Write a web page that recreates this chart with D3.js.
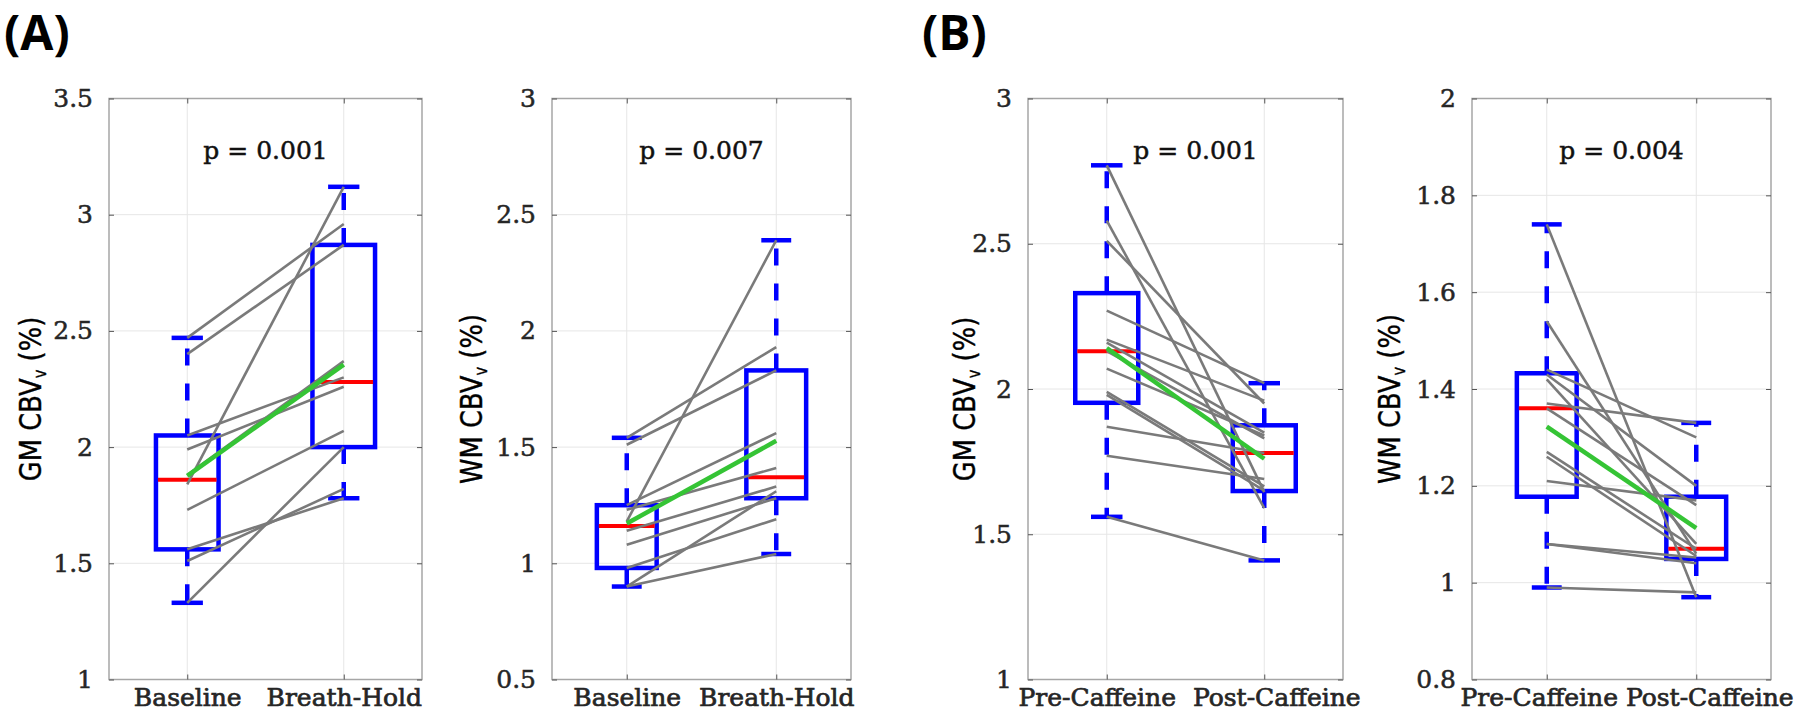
<!DOCTYPE html>
<html lang="en">
<head>
<meta charset="UTF-8">
<title>CBVv boxplots</title>
<script src="https://cdn.jsdelivr.net/npm/d3@7"></script>
<style>
    body { margin: 0; background: #fff; }
    .tick-label, .cat-label, .pval { font-family: "DejaVu Serif", serif; fill: #262626; stroke: #262626; stroke-width: 0.5px; }
    .tick-label { font-size: 25px; }
    .cat-label { font-size: 25px; stroke-width: 0.7px; }
    .pval { font-size: 25px; fill: #111; stroke: #111; }
    .ylab { font-family: "DejaVu Sans", sans-serif; font-size: 30px; fill: #000; stroke: #000; stroke-width: 0.4px; }
    .panel-tag { font-family: "Open Sans", "DejaVu Sans", sans-serif; font-weight: 700; font-size: 48px; fill: #000; }
</style>
</head>
<body>
<svg width="1800" height="718"></svg>
<script>
// per-subject values (same subject = same index)
var gmBaseline   = [2.47, 2.40, 1.84, 2.05, 1.99, 1.73, 1.56, 1.51, 1.33, 1.88];
var gmBreathHold = [2.96, 2.87, 3.12, 2.30, 2.26, 2.07, 1.78, 1.82, 2.00, 2.37];
var wmBaseline   = [1.54, 1.51, 1.18, 1.25, 1.23, 1.14, 1.08, 0.98, 0.90, 0.90];
var wmBreathHold = [1.93, 1.83, 2.39, 1.56, 1.41, 1.33, 1.28, 1.19, 1.31, 1.04];
var gmPreCaf  = [2.77, 2.58, 2.51, 2.27, 2.17, 2.16, 2.13, 2.07, 1.99, 1.98, 1.87, 1.77, 1.56];
var gmPostCaf = [1.645, 1.59, 1.95, 2.02, 1.96, 1.85, 1.83, 1.84, 1.665, 1.65, 1.78, 1.69, 1.41];
var wmPreCaf  = [1.74, 0.99, 1.54, 1.44, 1.43, 1.42, 1.37, 1.36, 1.27, 1.26, 1.21, 1.08, 1.08];
var wmPostCaf = [0.97, 0.98, 1.06, 1.30, 1.20, 1.08, 1.33, 1.16, 1.07, 1.055, 1.17, 1.052, 1.04];

var catsBreath = ["Baseline", "Breath-Hold"];
var catsCaf = ["Pre-Caffeine", "Post-Caffeine"];
var pValues = ["p = 0.001", "p = 0.007", "p = 0.001", "p = 0.004"];
var yLabels = ["GM", "WM", "GM", "WM"];
var yDomains = [[1, 3.5], [0.5, 3], [1, 3], [0.8, 2]];
var yTicks = [
    [1, 1.5, 2, 2.5, 3, 3.5],
    [0.5, 1, 1.5, 2, 2.5, 3],
    [1, 1.5, 2, 2.5, 3],
    [0.8, 1, 1.2, 1.4, 1.6, 1.8, 2]
];

var panels = [
    {a: gmBaseline, b: gmBreathHold, cats: catsBreath},
    {a: wmBaseline, b: wmBreathHold, cats: catsBreath},
    {a: gmPreCaf, b: gmPostCaf, cats: catsCaf},
    {a: wmPreCaf, b: wmPostCaf, cats: catsCaf}
];

// layout
var axLeft = [109, 552, 1028, 1472],
    axRight = [422, 851, 1343, 1771],
    axTop = 98.5, axBottom = 679.5;
var ylabX = [30, 471, 964, 1389], ylabY = 399;
var pShift = [0, 0, 10, 0];
var catShift = [[0, 0], [0, 0], [-10, 12], [-8, 13]];

var svg = d3.select("svg");

// MATLAB style percentile (used by boxplot)
function mq(vals, p) {
    var s = vals.slice().sort(d3.ascending), n = s.length;
    var pos = p * n + 0.5;
    if (pos <= 1) return s[0];
    if (pos >= n) return s[n - 1];
    var i = Math.floor(pos), f = pos - i;
    return s[i - 1] + f * (s[i] - s[i - 1]);
}

function boxStats(vals) {
    var q1 = mq(vals, 0.25), q3 = mq(vals, 0.75), iqr = q3 - q1;
    var inside = vals.filter(function (v) { return v >= q1 - 1.5 * iqr && v <= q3 + 1.5 * iqr; });
    return {q1: q1, med: mq(vals, 0.5), q3: q3, lo: d3.min(inside), hi: d3.max(inside)};
}

panels.forEach(function (p, k) {
    var x = d3.scaleLinear().domain([0.5, 2.5]).range([axLeft[k], axRight[k]]);
    var y = d3.scaleLinear().domain(yDomains[k]).range([axBottom, axTop]);
    var g = svg.append("g");

    // grid
    g.selectAll(".gy").data(yTicks[k]).enter().append("line")
        .attr("x1", axLeft[k]).attr("x2", axRight[k])
        .attr("y1", function (d) { return y(d); }).attr("y2", function (d) { return y(d); })
        .attr("stroke", "#e6e6e6").attr("stroke-width", 1);
    g.selectAll(".gx").data([1, 2]).enter().append("line")
        .attr("x1", function (d) { return x(d); }).attr("x2", function (d) { return x(d); })
        .attr("y1", axTop).attr("y2", axBottom)
        .attr("stroke", "#e6e6e6").attr("stroke-width", 1);

    // frame
    g.append("rect").attr("x", axLeft[k]).attr("y", axTop)
        .attr("width", axRight[k] - axLeft[k]).attr("height", axBottom - axTop)
        .attr("fill", "none").attr("stroke", "#a6a6a6").attr("stroke-width", 1.5);

    // axes (ticks inward, labels outside)
    var yAxis = d3.axisLeft(y).tickValues(yTicks[k]).tickFormat(d3.format("~g"))
        .tickSizeInner(-5).tickSizeOuter(0).tickPadding(16);
    var ya = g.append("g").attr("transform", "translate(" + axLeft[k] + ",0)").call(yAxis);
    ya.select(".domain").remove();
    ya.selectAll("line").attr("stroke", "#555");
    ya.selectAll("text").attr("class", "tick-label").attr("font-size", null).attr("font-family", null)
        .attr("fill", null);

    var yAxisR = d3.axisRight(y).tickValues(yTicks[k]).tickFormat("").tickSizeInner(-5).tickSizeOuter(0);
    var yr = g.append("g").attr("transform", "translate(" + axRight[k] + ",0)").call(yAxisR);
    yr.select(".domain").remove();
    yr.selectAll("line").attr("stroke", "#555");

    var xAxis = d3.axisBottom(x).tickValues([1, 2]).tickFormat(function (d) { return p.cats[d - 1]; })
        .tickSizeInner(-5).tickSizeOuter(0).tickPadding(14);
    var xa = g.append("g").attr("transform", "translate(0," + axBottom + ")").call(xAxis);
    xa.select(".domain").remove();
    xa.selectAll("line").attr("stroke", "#555");
    xa.selectAll("text").attr("class", "cat-label").attr("font-size", null).attr("font-family", null)
        .attr("fill", null).attr("dy", "0.5em")
        .attr("dx", function (d) { return catShift[k][d - 1]; });

    var xAxisT = d3.axisTop(x).tickValues([1, 2]).tickFormat("").tickSizeInner(-5).tickSizeOuter(0);
    var xt = g.append("g").attr("transform", "translate(0," + axTop + ")").call(xAxisT);
    xt.select(".domain").remove();
    xt.selectAll("line").attr("stroke", "#555");

    // boxes, box width 0.4 in category units
    var bw = x(0.9) - x(0.5);
    [p.a, p.b].forEach(function (vals, j) {
        var s = boxStats(vals), cx = x(j + 1);
        g.append("line").attr("x1", cx).attr("x2", cx).attr("y1", y(s.q3)).attr("y2", y(s.hi))
            .attr("stroke", "#0000ff").attr("stroke-width", 4.5).attr("stroke-dasharray", "17,18");
        g.append("line").attr("x1", cx).attr("x2", cx).attr("y1", y(s.q1)).attr("y2", y(s.lo))
            .attr("stroke", "#0000ff").attr("stroke-width", 4.5).attr("stroke-dasharray", "17,18");
        [s.lo, s.hi].forEach(function (v) {
            g.append("line").attr("x1", cx - bw / 4).attr("x2", cx + bw / 4)
                .attr("y1", y(v)).attr("y2", y(v))
                .attr("stroke", "#0000ff").attr("stroke-width", 4.5);
        });
        g.append("rect").attr("x", cx - bw / 2).attr("y", y(s.q3))
            .attr("width", bw).attr("height", y(s.q1) - y(s.q3))
            .attr("fill", "none").attr("stroke", "#0000ff").attr("stroke-width", 4.5);
        g.append("line").attr("x1", cx - bw / 2 + 2).attr("x2", cx + bw / 2 - 2)
            .attr("y1", y(s.med)).attr("y2", y(s.med))
            .attr("stroke", "#ff0000").attr("stroke-width", 4);
    });

    // subject lines
    g.selectAll(".subj").data(d3.range(p.a.length)).enter().append("line")
        .attr("x1", x(1)).attr("x2", x(2))
        .attr("y1", function (i) { return y(p.a[i]); })
        .attr("y2", function (i) { return y(p.b[i]); })
        .attr("stroke", "#7a7a7a").attr("stroke-width", 2.6);

    // group mean
    g.append("line").attr("x1", x(1)).attr("x2", x(2))
        .attr("y1", y(d3.mean(p.a))).attr("y2", y(d3.mean(p.b)))
        .attr("stroke", "#35c435").attr("stroke-width", 4.5);

    // p value
    g.append("text").attr("class", "pval")
        .attr("x", x(1.5) + pShift[k]).attr("y", 159)
        .attr("text-anchor", "middle").text(pValues[k]);

    // y label (condensed look)
    var yl = g.append("text").attr("class", "ylab")
        .attr("transform", "translate(" + ylabX[k] + "," + ylabY + ") rotate(-90) scale(0.86,1)")
        .attr("text-anchor", "middle").attr("dy", "0.35em");
    yl.append("tspan").text(yLabels[k] + " CBV");
    yl.append("tspan").attr("font-size", "17px").attr("dy", "5").text("v");
    yl.append("tspan").attr("dy", "-5").text(" (%)");
});

svg.append("text").attr("class", "panel-tag").attr("x", 4).attr("y", 50).text("(A)");
svg.append("text").attr("class", "panel-tag").attr("x", 922).attr("y", 50).text("(B)");
</script>
</body>
</html>
